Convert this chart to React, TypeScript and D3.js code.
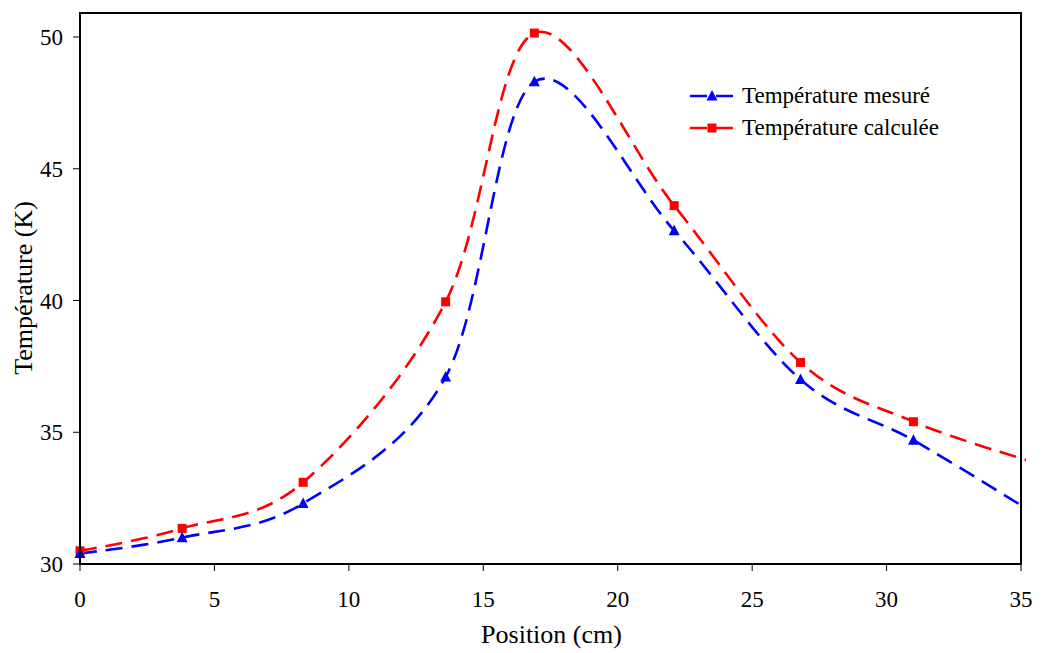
import React from "react";
import * as d3 from "d3";

const positions = [0, 3.8, 8.3, 13.6, 16.9, 22.1, 26.8, 31.0, 35.2];
const measured = [30.4, 31.0, 32.3, 37.1, 48.3, 42.65, 37.0, 34.7, 32.1];
const calculated = [30.5, 31.35, 33.1, 39.95, 50.15, 43.6, 37.65, 35.4, 33.95];
const markerCount = 8;
const xTicks = [0, 5, 10, 15, 20, 25, 30, 35];
const yTicks = [30, 35, 40, 45, 50];
const seriesNames = ["Température mesuré", "Température calculée"];

const W = 1042;
const H = 653;
const left = 80;
const right = 1021;
const top = 13;
const bottom = 564;

export default function App() {
  const x = d3.scaleLinear().domain([0, 35]).range([left, right]);
  const y = d3.scaleLinear().domain([30, 50]).range([bottom, 37]);
  const line = d3
    .line<[number, number]>()
    .x((d) => x(d[0]))
    .y((d) => y(d[1]))
    .curve(d3.curveCardinal.tension(0));
  const mPts = positions.map((p, i) => [p, measured[i]] as [number, number]);
  const cPts = positions.map((p, i) => [p, calculated[i]] as [number, number]);
  const font = "'Liberation Serif', 'Times New Roman', serif";
  const tri = (cx: number, cy: number, s: number) =>
    `M${cx},${cy - s * 0.6} L${cx + s * 0.55},${cy + s * 0.45} L${cx - s * 0.55},${cy + s * 0.45} Z`;
  return (
    <svg width={W} height={H} style={{ position: "absolute", left: 0, top: 0 }}>
      <defs>
        <clipPath id="clip">
          <rect x={left} y={top} width={right - left + 5} height={bottom - top} />
        </clipPath>
      </defs>
      <rect x={0} y={0} width={W} height={H} fill="white" />
      <g clipPath="url(#clip)">
        <path d={line(cPts) || ""} fill="none" stroke="#ff0000" strokeWidth={2.6} strokeDasharray="17,9" />
        <path d={line(mPts) || ""} fill="none" stroke="#0000ff" strokeWidth={2.6} strokeDasharray="17,9" />
      </g>
      {cPts.slice(0, markerCount).map((d, i) => (
        <rect key={"c" + i} x={x(d[0]) - 4.5} y={y(d[1]) - 4.5} width={9} height={9} fill="#ff0000" />
      ))}
      {mPts.slice(0, markerCount).map((d, i) => (
        <path key={"m" + i} d={tri(x(d[0]), y(d[1]), 10)} fill="#0000ff" />
      ))}
      <rect x={left} y={top} width={right - left} height={bottom - top} fill="none" stroke="black" strokeWidth={2} />
      {xTicks.map((t) => (
        <g key={"x" + t}>
          <line x1={x(t)} x2={x(t)} y1={bottom} y2={bottom + 7} stroke="black" strokeWidth={1} />
          <text x={x(t)} y={607} textAnchor="middle" fontFamily={font} fontSize={23}>
            {t}
          </text>
        </g>
      ))}
      {yTicks.map((t) => (
        <g key={"y" + t}>
          <line x1={left - 7} x2={left} y1={y(t)} y2={y(t)} stroke="black" strokeWidth={1} />
          <text x={63} y={y(t) + 8} textAnchor="end" fontFamily={font} fontSize={23}>
            {t}
          </text>
        </g>
      ))}
      <text x={551.5} y={643} textAnchor="middle" fontFamily={font} fontSize={26}>
        Position (cm)
      </text>
      <text
        transform="translate(32,288) rotate(-90)"
        textAnchor="middle"
        fontFamily={font}
        fontSize={26}
      >
        Température (K)
      </text>
      {seriesNames.map((n, i) => {
        const ly = 96 + i * 32;
        const col = i === 0 ? "#0000ff" : "#ff0000";
        return (
          <g key={n}>
            <line x1={690} x2={735} y1={ly} y2={ly} stroke={col} strokeWidth={2.6} strokeDasharray="17,9" />
            {i === 0 ? (
              <path d={tri(712, ly, 10)} fill={col} />
            ) : (
              <rect x={712 - 4.5} y={ly - 4.5} width={9} height={9} fill={col} />
            )}
            <text x={742} y={ly + 7} fontFamily={font} fontSize={23}>
              {n}
            </text>
          </g>
        );
      })}
    </svg>
  );
}
